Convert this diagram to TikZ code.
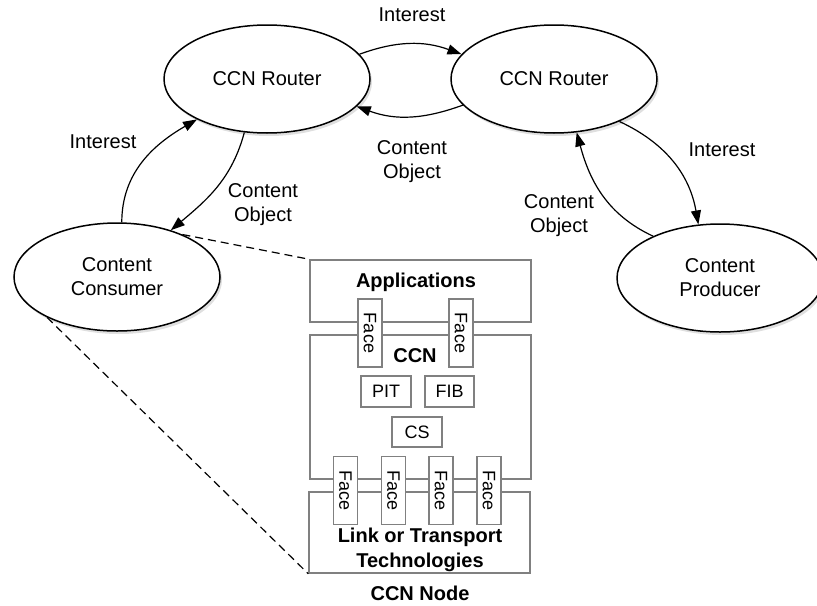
\documentclass[tikz,border=0pt]{standalone}
\usepackage{fontspec}
\setmainfont{Liberation Sans}
\usetikzlibrary{arrows.meta, positioning, shapes.geometric, shadows}

\begin{document}
\begin{tikzpicture}[
  x=0.5pt, y=0.5pt,
  every node/.style={align=center, font=\fontsize{10}{12}\selectfont},
  peer/.style={draw, ellipse, line width=0.75pt, fill=white, minimum width=103pt, minimum height=54pt, inner sep=0pt,
    drop shadow={opacity=0.25, shadow xshift=1pt, shadow yshift=-1.5pt}},
  layer/.style={draw=black!50, line width=0.75pt, rectangle, inner sep=0pt, minimum width=110.5pt},
  part/.style={draw=black!50, line width=0.75pt, rectangle, fill=white, inner sep=0pt, font=\fontsize{9}{11}\selectfont},
  face/.style={part, rotate=-90, minimum width=34pt, minimum height=12pt},
  arrow/.style={-{Triangle[length=7pt, width=5pt]}, line width=0.6pt},
  zoomline/.style={dash pattern=on 4pt off 2.5pt, line width=0.6pt}
]
\useasboundingbox (0,0) rectangle (817,-605);

% Nodes
\node[peer] (router1) at (267,-79) {CCN Router};
\node[peer] (router2) at (554,-79) {CCN Router};
\node[peer] (consumer) at (117,-277) {Content\\Consumer};
\node[peer] (producer) at (720,-278) {Content\\Producer};

% CCN node stack
\node[layer, minimum height=31pt] (apps) at (420.5,-291) {};
\node[layer, minimum height=72pt] (ccn) at (420.5,-407) {};
\node[layer, minimum height=40.5pt] (link) at (419.5,-532.5) {};
\node[font=\fontsize{10}{12}\bfseries] (appstext) at (416,-282) {Applications};
\node[font=\fontsize{10}{12}\bfseries] (ccntext) at (415,-356) {CCN};
\node[font=\fontsize{10}{12.5}\bfseries] (linktext) at (420,-549.5) {Link or Transport\\Technologies};
\node[font=\fontsize{10}{12}\bfseries] (nodetext) at (420,-593) {CCN Node};

\node[face] (face1) at (370,-333) {Face};
\node[face] (face2) at (461,-333) {Face};
\node[face] (face3) at (345.5,-490.5) {Face};
\node[face] (face4) at (393.5,-490.5) {Face};
\node[face] (face5) at (441,-490.5) {Face};
\node[face] (face6) at (489,-490.5) {Face};

\node[part, minimum width=25pt, minimum height=15.5pt] (pit) at (386,-391.5) {PIT};
\node[part, minimum width=24.5pt, minimum height=15.5pt] (fib) at (449.5,-391.5) {FIB};
\node[part, minimum width=25pt, minimum height=15pt] (cs) at (417,-432) {CS};

% Labels
\node (int1) at (412,-15) {Interest};
\node (obj1) at (412,-161.5) {Content\\Object};
\node (int2) at (103,-142) {Interest};
\node (obj2) at (263,-204.5) {Content\\Object};
\node (int3) at (722,-150) {Interest};
\node (obj3) at (559,-216) {Content\\Object};

% Arrows
\draw[arrow] (router1.15) to[out=20, in=160] (router2.165);
\draw[arrow] (router2.196) to[out=200, in=-20] (router1.-17);
\draw[arrow] (consumer.85) to[out=90, in=210] (router1.210);
\draw[arrow] (router1.247) to[out=-105, in=40] (consumer.41);
\draw[arrow] (router2.-33) to[out=-25, in=100] (producer.112);
\draw[arrow] (producer.148) to[out=155, in=-75] (router2.-67);

\draw[zoomline] (consumer.33) -- (apps.north west);
\draw[zoomline] (consumer.210) -- (link.south west);

\end{tikzpicture}
\end{document}
